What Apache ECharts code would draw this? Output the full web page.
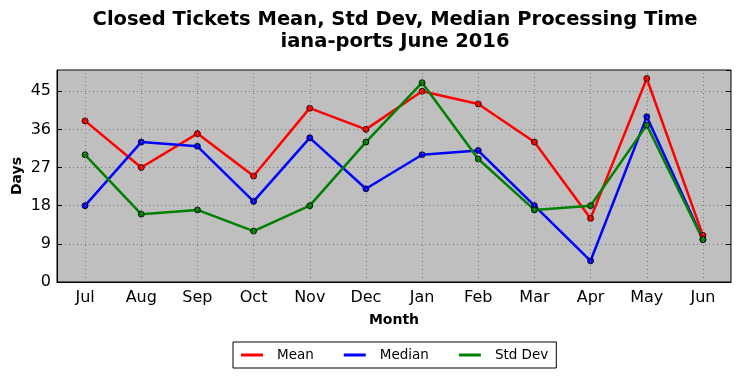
<!DOCTYPE html>
<html><head><meta charset="utf-8">
<script src="https://cdn.jsdelivr.net/npm/echarts@6/dist/echarts.min.js"></script>
<style>html,body{margin:0;padding:0;background:#fff}#c{width:741px;height:378px}</style>
</head><body><div id="c"></div>
<script>
const months = ['Jul','Aug','Sep','Oct','Nov','Dec','Jan','Feb','Mar','Apr','May','Jun'];
const meanDays = [38,27,35,25,41,36,45,42,33,15,48,11];
const medianDays = [18,33,32,19,34,22,30,31,18,5,39,10];
const stdDevDays = [30,16,17,12,18,33,47,29,17,18,37,10];
const yTicks = [0,9,18,27,36,45];

const chart = echarts.init(document.getElementById('c'), null, {renderer:'canvas'});
const F = 'DejaVu Sans';
function mk(name, data, color){
  return {name, type:'line', data, xAxisIndex:0, yAxisIndex:0, z:3,
    symbol:'circle', symbolSize:6, showSymbol:true,
    lineStyle:{color, width:2.5},
    itemStyle:{color, borderColor:'#000', borderWidth:0.8},
    emphasis:{disabled:true}, animation:false};
}
chart.setOption({
  animation:false,
  textStyle:{fontFamily:F},
  title:{text:'Closed Tickets Mean, Std Dev, Median Processing Time\niana-ports June 2016',
    left:390, textAlign:'center', top:4,
    textStyle:{fontFamily:F, fontSize:19.5, fontWeight:'bold', color:'#000', lineHeight:22}},
  grid:{left:57, top:70, right:10, bottom:96, containLabel:false, outerBoundsMode:'none',
    show:true, backgroundColor:'#bfbfbf', borderColor:'#000', borderWidth:1},
  legend:{bottom:10, left:233, data:['Mean','Median','Std Dev'],
    icon:'rect', itemWidth:22, itemHeight:3, itemGap:30,
    itemStyle:{borderWidth:0},
    borderColor:'#000', borderWidth:1, backgroundColor:'#fff', padding:[6,8,6,8],
    textStyle:{fontFamily:F, fontSize:13.5, color:'#000', padding:[0,0,0,9]}},
  xAxis:[{type:'category', data:months, boundaryGap:true, name:'Month', nameLocation:'middle', nameGap:31,
    nameTextStyle:{fontFamily:F, fontSize:14, fontWeight:'bold', color:'#000'},
    axisLine:{lineStyle:{color:'#000'}},
    axisTick:{inside:true, alignWithLabel:true, length:5, lineStyle:{color:'#000'}},
    axisLabel:{fontFamily:F, fontSize:16, color:'#000', margin:8},
    splitLine:{show:false}},
   {type:'category', data:months, position:'top', boundaryGap:true,
    axisLine:{show:false}, axisTick:{inside:true, alignWithLabel:true, length:5, lineStyle:{color:'#000'}},
    axisLabel:{show:false}, splitLine:{show:false}}],
  yAxis:[{type:'value', min:0, max:50, interval:9, name:'Days', nameLocation:'middle', nameGap:33,
    nameMoveOverlap:false,
    nameTextStyle:{fontFamily:F, fontSize:14, fontWeight:'bold', color:'#000'},
    axisLine:{show:true, lineStyle:{color:'#000'}},
    axisTick:{show:true, inside:true, length:5, lineStyle:{color:'#000'}},
    axisLabel:{fontFamily:F, fontSize:16, color:'#000', margin:6, showMaxLabel:false,
      formatter:v=> yTicks.includes(v) ? String(v) : ''},
    splitLine:{show:true, lineStyle:{color:'#777', type:[1,3], width:1}}},
   {type:'value', min:0, max:50, interval:9, position:'right',
    axisLine:{show:false}, axisTick:{show:true, inside:true, length:5, lineStyle:{color:'#000'}},
    axisLabel:{show:false}, splitLine:{show:false}}],
  series:[
    {name:'grid', type:'line', data:[], z:1, silent:true, legendHoverLink:false,
     markLine:{silent:true, symbol:'none', animation:false, label:{show:false},
       lineStyle:{color:'#777', type:[1,3], width:1},
       data: months.map(m=>({xAxis:m}))}},
    mk('Mean', meanDays, '#ff0000'), mk('Median', medianDays, '#0000ff'), mk('Std Dev', stdDevDays, '#008000')]
});
</script></body></html>
